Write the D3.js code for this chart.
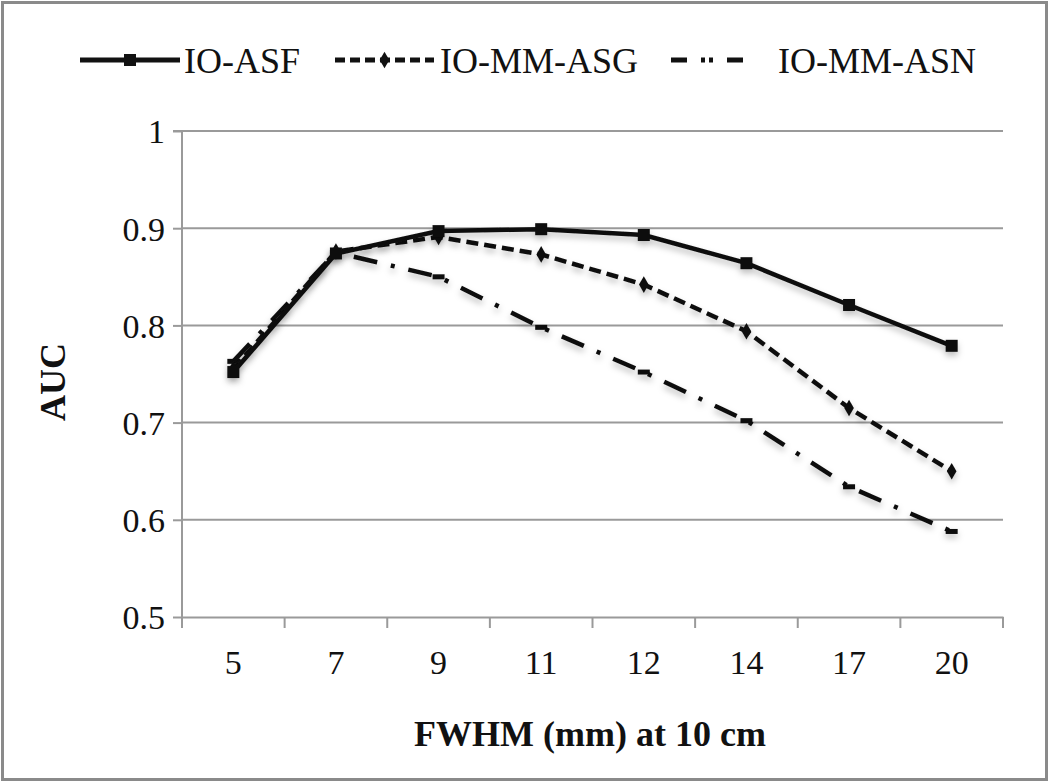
<!DOCTYPE html>
<html><head><meta charset="utf-8">
<script src="https://cdn.jsdelivr.net/npm/d3@7"></script>
<style>body{margin:0;background:#fff}svg{display:block}</style>
</head><body>
<svg id="c" width="1050" height="783"></svg>
<script>
const categories = ["5","7","9","11","12","14","17","20"];
const asf = [0.752,0.874,0.897,0.899,0.893,0.864,0.821,0.779];
const asg = [0.755,0.876,0.891,0.873,0.842,0.794,0.715,0.650];
const asn = [0.763,0.875,0.850,0.798,0.752,0.702,0.634,0.588];
const yTicks = [0.5,0.6,0.7,0.8,0.9,1];
const seriesNames = ["IO-ASF","IO-MM-ASG","IO-MM-ASN"];

const FONT = "'Liberation Serif', 'Times New Roman', serif";
const svg = d3.select("#c");
svg.append("rect").attr("x",2.5).attr("y",2.5).attr("width",1044).attr("height",777)
  .attr("fill","#fff").attr("stroke","#8a8a8a").attr("stroke-width",3);

const L=182, R=1003, T=131, B=617;
const x = d3.scaleBand().domain(categories).range([L,R]);
const y = d3.scaleLinear().domain([0.5,1]).range([B,T]);

svg.append("g").selectAll("line").data(yTicks.slice(1)).join("line")
  .attr("x1",L).attr("x2",R).attr("y1",d=>y(d)).attr("y2",d=>y(d))
  .attr("stroke","#9a9a9a").attr("stroke-width",2);

const ya = svg.append("g").attr("transform",`translate(${L},0)`)
  .call(d3.axisLeft(y).tickValues(yTicks).tickFormat(d=>d===1?"1":d3.format(".1f")(d)).tickSize(9).tickPadding(8));
ya.attr("font-family",FONT).attr("font-size",34);
ya.select(".domain").attr("stroke","#9a9a9a").attr("stroke-width",2).attr("d",`M-9,${T}H0V${B}`);
ya.selectAll(".tick line").attr("stroke","#9a9a9a").attr("stroke-width",2);
ya.selectAll(".tick text").attr("fill","#111").attr("dy","0.35em").attr("x",-17);

const xa = svg.append("g").attr("transform",`translate(0,${B})`)
  .call(d3.axisBottom(x).tickSize(0).tickPadding(33));
xa.attr("font-family",FONT).attr("font-size",34);
xa.select(".domain").attr("stroke","#9a9a9a").attr("stroke-width",2);
xa.selectAll(".tick text").attr("fill","#111");
const bounds = categories.map(c=>x(c)).concat([R]);
xa.append("g").selectAll("line").data(bounds).join("line")
  .attr("x1",d=>d).attr("x2",d=>d).attr("y1",0).attr("y2",11)
  .attr("stroke","#9a9a9a").attr("stroke-width",2);

svg.append("text").attr("x",590).attr("y",746).attr("text-anchor","middle")
  .attr("font-family",FONT).attr("font-size",36).attr("font-weight","bold").attr("fill","#111").text("FWHM (mm) at 10 cm");
svg.append("text").attr("transform","translate(65,382) rotate(-90)").attr("text-anchor","middle")
  .attr("font-family",FONT).attr("font-size",36).attr("font-weight","bold").attr("fill","#111").text("AUC");

const cx = c=>x(c)+x.bandwidth()/2;
const line = d3.line().x((d,i)=>cx(categories[i])).y(d=>y(d));

const defs = svg.append("defs");
const f = defs.append("filter").attr("id","sh").attr("x","-20%").attr("y","-20%").attr("width","140%").attr("height","140%");
f.append("feDropShadow").attr("dx",0).attr("dy",4).attr("stdDeviation",3).attr("flood-color","#000").attr("flood-opacity",0.25);

const series = [
  {name:seriesNames[0], vals:asf, dash:null, marker:"square"},
  {name:seriesNames[1], vals:asg, dash:"12,6", marker:"diamond"},
  {name:seriesNames[2], vals:asn, dash:"24,14,4,14", marker:"dash"}
];

function drawMarker(g, kind, px, py){
  if(kind==="square") g.append("rect").attr("x",px-6).attr("y",py-6).attr("width",12).attr("height",12).attr("fill","#111");
  else if(kind==="diamond") g.append("path").attr("d",d3.symbol(d3.symbolDiamond,80)()).attr("transform",`translate(${px},${py})`).attr("fill","#111");
  else g.append("rect").attr("x",px-6).attr("y",py-2.5).attr("width",12).attr("height",5).attr("fill","#111");
}

series.slice().reverse().forEach(s=>{
  const g = svg.append("g").attr("filter","url(#sh)");
  g.append("path").datum(s.vals).attr("d",line).attr("fill","none").attr("stroke","#111")
    .attr("stroke-width",4.5).attr("stroke-dasharray",s.dash);
  s.vals.forEach((v,i)=>drawMarker(g,s.marker,cx(categories[i]),y(v)));
});

const leg = [{x0:80,x1:180,tx:184},{x0:335,x1:434,tx:440},{x0:671,x1:752,tx:778}];
const legDash = [null,"10,5","16,14,4,4,4,14"];
series.forEach((s,i)=>{
  const l = leg[i], ly=60;
  svg.append("line").attr("x1",l.x0).attr("x2",l.x1).attr("y1",ly).attr("y2",ly)
    .attr("stroke","#111").attr("stroke-width",5).attr("stroke-dasharray",legDash[i]);
  if(i<2) drawMarker(svg,s.marker,(l.x0+l.x1)/2,ly);
  svg.append("text").attr("x",l.tx).attr("y",ly).attr("dy","0.35em")
    .attr("font-family",FONT).attr("font-size",36).attr("fill","#111").text(s.name);
});
</script>
</body></html>
